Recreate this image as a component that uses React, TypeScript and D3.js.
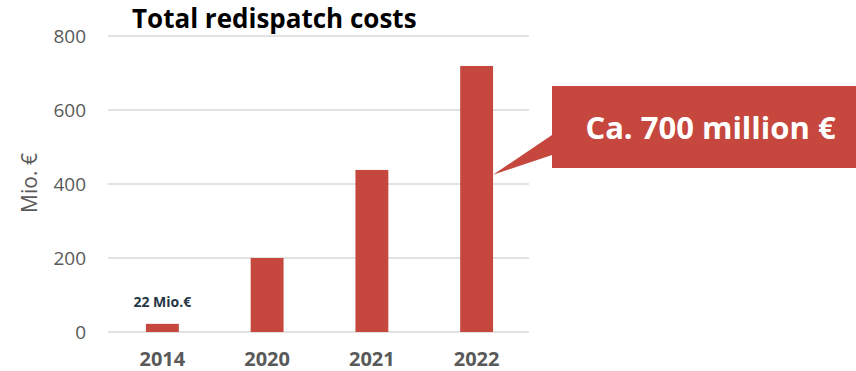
import React from "react";
import * as d3 from "d3";

const years = ["2014", "2020", "2021", "2022"];
const costs = [22, 200, 438, 719];
const yTicks = [0, 200, 400, 600, 800];
const titleText = "Total redispatch costs";
const yAxisLabel = "Mio. €";
const firstBarLabel = "22 Mio.€";
const calloutText = "Ca. 700 million €";
const calloutAnchorValue = 425;

const W = 856;
const H = 371;
const RED = "#C5473D";
const GRAY = "#595959";
const FONT = "'Open Sans', 'DejaVu Sans', sans-serif";

export default function App() {
  const x = d3.scaleBand<string>().domain(years).range([110, 529]).paddingInner(0.686).paddingOuter(0.343);
  const y = d3.scaleLinear().domain([0, 800]).range([332, 36]);
  const bw = x.bandwidth();

  const last = years[years.length - 1];
  const tipX = (x(last) as number) + bw;
  const tipY = y(calloutAnchorValue);

  const pointer = d3.line()([
    [552, 135],
    [tipX, tipY],
    [552, 155],
  ]);

  return (
    <svg width={W} height={H} style={{ position: "absolute", left: 0, top: 0 }} fontFamily={FONT}>
      <rect x={0} y={0} width={W} height={H} fill="#ffffff" />
      {yTicks.map((t) => (
        <g key={t}>
          <line x1={108} x2={529} y1={y(t)} y2={y(t)} stroke="#D9D9D9" strokeWidth={1.5} />
          <text x={86} y={y(t)} dy="0.36em" textAnchor="end" fontSize={19} fill={GRAY}>
            {t}
          </text>
        </g>
      ))}
      {years.map((yr, i) => (
        <rect key={yr} x={x(yr)} y={y(costs[i])} width={bw} height={y(0) - y(costs[i])} fill={RED} />
      ))}
      {years.map((yr) => (
        <text key={yr} x={(x(yr) as number) + bw / 2} y={366} textAnchor="middle" fontSize={20} fontWeight="bold" fill={GRAY}>
          {yr}
        </text>
      ))}
      <text x={(x(years[0]) as number) + bw / 2} y={306.5} textAnchor="middle" fontSize={14} fontWeight="bold" fill="#253746">
        {firstBarLabel}
      </text>
      <text transform="translate(37,183) rotate(-90)" textAnchor="middle" fontSize={21} fill={GRAY}>
        {yAxisLabel}
      </text>
      <text x={132} y={28} fontSize={26} fontWeight="bold" fill="#000000">
        {titleText}
      </text>
      <path d={pointer as string} fill={RED} />
      <rect x={552} y={86} width={W - 552} height={82} fill={RED} />
      <text x={710.5} y={139} textAnchor="middle" fontSize={31} fontWeight="bold" fill="#ffffff">
        {calloutText}
      </text>
    </svg>
  );
}
